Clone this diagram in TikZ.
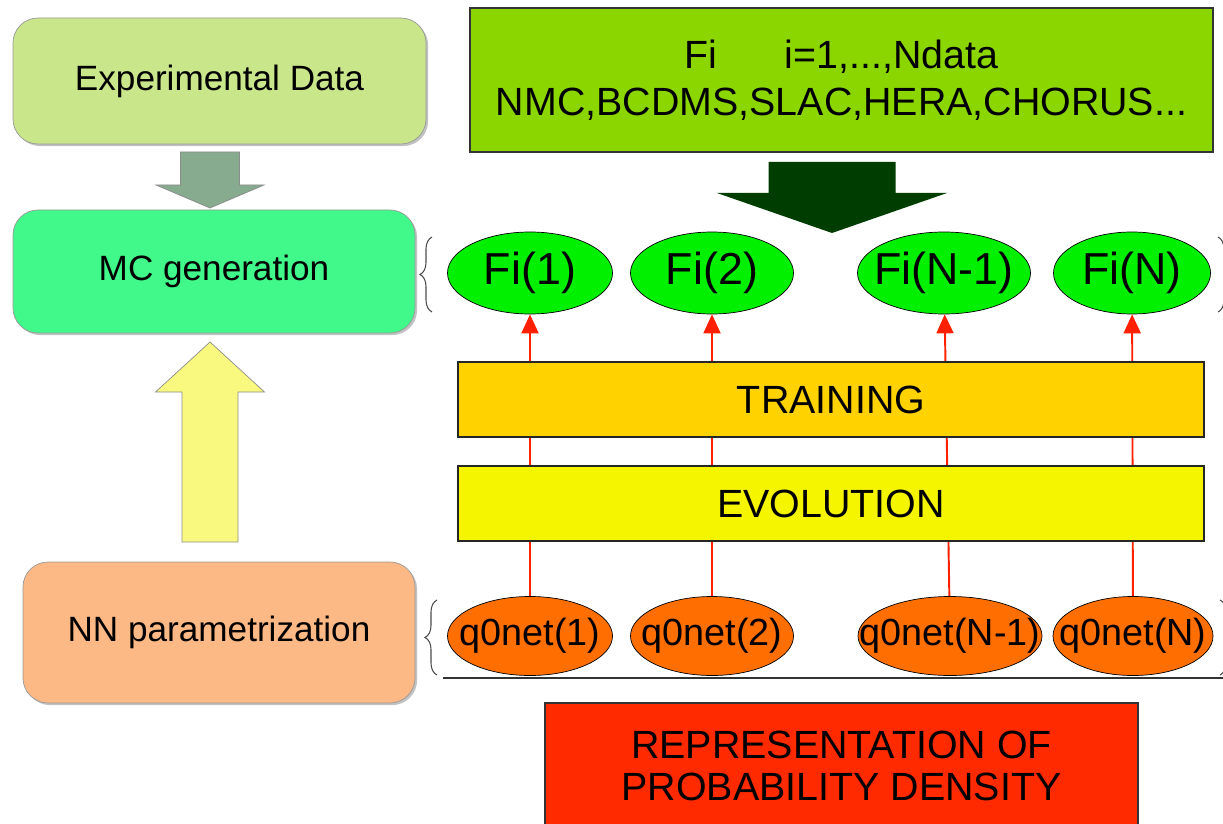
\documentclass[tikz,border=0pt]{standalone}
\usepackage{fontspec}
\setmainfont{Liberation Sans}
\usetikzlibrary{shapes.geometric,arrows.meta,decorations.pathreplacing,shadows}

\definecolor{expgreen}{RGB}{201,230,138}
\definecolor{mcgreen}{RGB}{64,249,138}
\definecolor{nnorange}{RGB}{253,185,133}
\definecolor{arrowgray}{RGB}{134,171,142}
\definecolor{arrowyellow}{RGB}{249,249,127}
\definecolor{topgreen}{RGB}{140,214,0}
\definecolor{darkgreen}{RGB}{0,61,0}
\definecolor{figreen}{RGB}{0,240,0}
\definecolor{qorange}{RGB}{255,110,0}
\definecolor{traingold}{RGB}{255,210,0}
\definecolor{evolyellow}{RGB}{245,245,0}
\definecolor{reprred}{RGB}{255,42,0}
\definecolor{linered}{RGB}{255,32,0}

% text that does not widen the ellipse
\newcommand{\eltext}[1]{\makebox[0pt]{#1}}

\begin{document}
\begin{tikzpicture}[
    leftbox/.style={rectangle,rounded corners=5mm,draw=black!40,
        font=\fontsize{20}{24}\selectfont,
        drop shadow={shadow xshift=1.2pt,shadow yshift=-1.2pt,fill=black!40,opacity=0.6}},
    bar/.style={rectangle,draw=black!85,line width=0.8pt,minimum width=14.92cm,
        minimum height=1.5cm,font=\fontsize{22.4}{27}\selectfont},
    fiell/.style={ellipse,draw=black,fill=figreen,inner sep=0pt,minimum height=1.64cm,
        font=\fontsize{25.5}{30}\selectfont},
    qell/.style={ellipse,draw=black,fill=qorange,inner sep=0pt,minimum height=1.58cm,
        font=\fontsize{21.5}{26}\selectfont},
    redarrow/.style={draw=linered,line width=1.1pt,-{Triangle[length=3.8mm,width=3.4mm]}},
    curly/.style={draw=black!70,line width=0.6pt,decorate,decoration={brace,amplitude=2.4mm}}
]
\useasboundingbox (0,0) rectangle (24.46,-16.46);
\clip (0,0) rectangle (24.46,-16.46);

% Lewa kolumna
\node[leftbox,fill=expgreen,minimum width=8.26cm,minimum height=2.52cm] (expdata) at (4.39,-1.62) {Experimental Data};
\node[leftbox,fill=mcgreen,minimum width=8.04cm,minimum height=2.46cm] (mcgen) at (4.28,-5.43) {MC generation};
\node[leftbox,fill=nnorange,minimum width=7.84cm,minimum height=2.82cm] (nnpar) at (4.38,-12.65) {NN parametrization};

% Strzalki blokowe
\coordinate (gtip) at (4.2,-4.16);
\filldraw[fill=arrowgray,draw=black!45] (gtip) -- ++(-1.08,0.46) -- ++(0.49,0) -- ++(0,0.66)
    -- ++(1.18,0) -- ++(0,-0.66) -- ++(0.49,0) -- cycle;
\coordinate (ytip) at (4.2,-6.84);
\filldraw[fill=arrowyellow,draw=black!45] (ytip) -- ++(-1.09,-1.0) -- ++(0.53,0) -- ++(0,-3.0)
    -- ++(1.12,0) -- ++(0,3.0) -- ++(0.53,0) -- cycle;
\coordinate (dtip) at (16.64,-4.66);
\fill[darkgreen] (dtip) -- ++(-2.3,0.8) -- ++(1.03,0) -- ++(0,0.62)
    -- ++(2.54,0) -- ++(0,-0.62) -- ++(1.03,0) -- cycle;

% Dane wejsciowe
\node[rectangle,draw=black!80,line width=0.8pt,fill=topgreen,minimum width=14.86cm,minimum height=2.88cm,
    align=center,font=\fontsize{22.4}{27}\selectfont] (data) at (16.83,-1.6)
    {Fi\hspace{1.34cm}i=1,...,Ndata\\NMC,BCDMS,SLAC,HERA,CHORUS...};

% Repliki Fi (gora)
\node[fiell,minimum width=3.3cm] (f1) at (10.6,-5.46) {\eltext{Fi(1)}};
\node[fiell,minimum width=3.26cm] (f2) at (14.24,-5.46) {\eltext{Fi(2)}};
\node[fiell,minimum width=3.46cm] (f3) at (18.88,-5.46) {\eltext{Fi(N-1)}};
\node[fiell,minimum width=3.14cm] (f4) at (22.64,-5.46) {\eltext{Fi(N)}};

% Sieci q0net (dol)
\node[qell,minimum width=3.3cm] (q1) at (10.6,-12.72) {\eltext{q0net(1)}};
\node[qell,minimum width=3.26cm] (q2) at (14.24,-12.72) {\eltext{q0net(2)}};
\node[qell,minimum width=3.68cm] (q3) at (19.0,-12.72) {\eltext{q0net(N-1)}};
\node[qell,minimum width=3.2cm] (q4) at (22.66,-12.72) {\eltext{q0net(N)}};

% Krawedzie q0net -> Fi
\draw[redarrow] (q1) -- (f1);
\draw[redarrow] (q2) -- (f2);
\draw[redarrow] (q3) -- (f3);
\draw[redarrow] (q4) -- (f4);

% Paski posrednie
\node[bar,fill=traingold] (train) at (16.62,-7.99) {TRAINING};
\node[bar,fill=evolyellow] (evol) at (16.62,-10.07) {EVOLUTION};

% Nawiasy
\draw[curly] (8.64,-6.24) -- (8.64,-4.74);
\draw[curly] (24.36,-4.74) -- (24.36,-6.24);
\draw[curly] (8.74,-13.5) -- (8.74,-12.0);
\draw[curly] (24.4,-12.0) -- (24.4,-13.5);
\draw[black!80,line width=0.8pt] (8.86,-13.56) -- (24.6,-13.56);

% Wynik
\node[rectangle,draw=black!80,line width=0.8pt,fill=reprred,minimum width=11.86cm,minimum height=2.52cm,
    align=center,font=\fontsize{22.4}{23.8}\selectfont] (repr) at (16.83,-15.32)
    {REPRESENTATION OF\\PROBABILITY DENSITY};

\end{tikzpicture}
\end{document}
